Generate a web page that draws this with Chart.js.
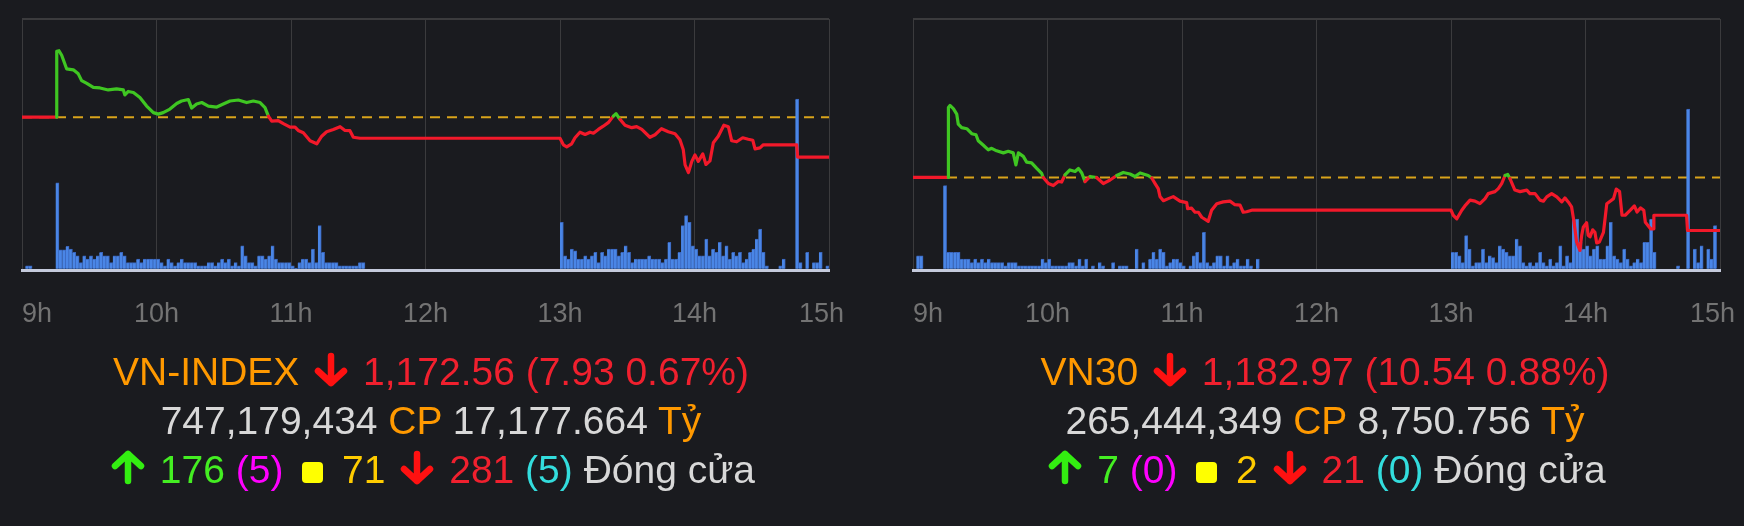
<!DOCTYPE html>
<html>
<head>
<meta charset="utf-8">
<script src="https://cdn.jsdelivr.net/npm/chart.js@4.4.1/dist/chart.umd.min.js"></script>
<style>
  html, body { margin: 0; padding: 0; background: #1a1b1f; }
  body { width: 1744px; height: 526px; position: relative; overflow: hidden;
         font-family: "Liberation Sans", Arial, sans-serif; }
  canvas { position: absolute; top: 0; }
  .info { position: absolute; top: 347px; width: 800px; text-align: center;
          font-size: 39px; line-height: 49px; white-space: nowrap; }
  .o { color: #ff9900; }
  .r { color: #f0202e; }
  .w { color: #d8d8d8; }
  .g { color: #44ee22; }
  .m { color: #ff00ff; }
  .y { color: #ffcc00; }
  .c { color: #33dddd; }
  .sq { display: inline-block; width: 21px; height: 21px; background: #ffff00;
        border-radius: 4px; margin: 0 8px; vertical-align: 0px; }
  svg.arr { vertical-align: -2px; }
</style>
</head>
<body>
<canvas id="vniChart" width="947" height="359" style="left:-48px"></canvas>
<canvas id="vn30Chart" width="947" height="359" style="left:843px"></canvas>

<div class="info" style="left:31px">
  <div><span class="o">VN-INDEX</span> <svg class="arr" width="42" height="35" viewBox="0 0 42 35"><path d="M21 4 V31 M8 19 L21 31 L34 19" fill="none" stroke="#ff1111" stroke-width="6.5" stroke-linecap="round" stroke-linejoin="round"/></svg> <span class="r">1,172.56 (7.93 0.67%)</span></div>
  <div><span class="w">747,179,434</span> <span class="o">CP</span> <span class="w">17,177.664</span> <span class="o">Tỷ</span></div>
  <div><svg class="arr" width="42" height="35" viewBox="0 0 42 35"><path d="M21 31 V4 M8 16 L21 4 L34 16" fill="none" stroke="#33ee11" stroke-width="6.5" stroke-linecap="round" stroke-linejoin="round"/></svg> <span class="g">176</span> <span class="m">(5)</span> <i class="sq"></i> <span class="y">71</span> <svg class="arr" width="42" height="35" viewBox="0 0 42 35"><path d="M21 4 V31 M8 19 L21 31 L34 19" fill="none" stroke="#ff1111" stroke-width="6.5" stroke-linecap="round" stroke-linejoin="round"/></svg> <span class="r">281</span> <span class="c">(5)</span> <span class="w">Đóng cửa</span></div>
</div>

<div class="info" style="left:925px">
  <div><span class="o">VN30</span> <svg class="arr" width="42" height="35" viewBox="0 0 42 35"><path d="M21 4 V31 M8 19 L21 31 L34 19" fill="none" stroke="#ff1111" stroke-width="6.5" stroke-linecap="round" stroke-linejoin="round"/></svg> <span class="r">1,182.97 (10.54 0.88%)</span></div>
  <div><span class="w">265,444,349</span> <span class="o">CP</span> <span class="w">8,750.756</span> <span class="o">Tỷ</span></div>
  <div><svg class="arr" width="42" height="35" viewBox="0 0 42 35"><path d="M21 31 V4 M8 16 L21 4 L34 16" fill="none" stroke="#33ee11" stroke-width="6.5" stroke-linecap="round" stroke-linejoin="round"/></svg> <span class="g">7</span> <span class="m">(0)</span> <i class="sq"></i> <span class="y">2</span> <svg class="arr" width="42" height="35" viewBox="0 0 42 35"><path d="M21 4 V31 M8 19 L21 31 L34 19" fill="none" stroke="#ff1111" stroke-width="6.5" stroke-linecap="round" stroke-linejoin="round"/></svg> <span class="r">21</span> <span class="c">(0)</span> <span class="w">Đóng cửa</span></div>
</div>

<script>
'use strict';
// time axis: minutes after 9:00, one tick per hour
let hourLabels = ['9h', '10h', '11h', '12h', '13h', '14h', '15h'];

// VN-INDEX intraday (minutes after 9:00, index points)
let vniRef = 1180.49;
let vniTimes = [0, 15.5, 15.5, 16.5, 17.7, 19.9, 22.9, 25.1, 26.6, 28.9,
  31.8, 34.8, 38.5, 42.2, 45.2, 45.9, 47.4, 49.7, 52.6, 55.6,
  58.6, 60.8, 63, 66, 69, 71.2, 74.2, 75.7, 77.9, 80.2,
  83.1, 86.9, 89.8, 92.8, 96.5, 100.2, 103.2, 106.2, 108.4, 109.9,
  111.4, 114.3, 116.6, 119.6, 121.8, 123.2, 125.5, 128.5, 131.5, 133.7,
  135.9, 138.9, 141.9, 144.1, 146.3, 147.8, 150.8, 240, 241.5, 243,
  245.2, 246.7, 248.9, 251.2, 253.4, 254.9, 257.1, 259.3, 261.5, 263.8,
  265, 266.8, 269, 272, 274.2, 276.5, 280.1, 282.4, 285.3, 288.3,
  291.3, 293.5, 295, 295.8, 297.3, 298.8, 300.2, 301.7, 303.7, 305.1,
  306.9, 308.4, 310.6, 313.1, 315.1, 316.6, 318.8, 321.5, 324, 326,
  327, 329.2, 330.7, 345.6, 346, 360];
let vniPrices = [1180.49, 1180.49, 1193.6, 1193.7, 1192.8, 1190.1, 1189.9, 1189.1, 1187.75, 1187.2,
  1186.4, 1186.3, 1185.9, 1186.1, 1185.9, 1184.9, 1185.6, 1185.4, 1184.4, 1182.7,
  1181.4, 1181.1, 1181.4, 1182.1, 1183.2, 1183.7, 1184.0, 1182.3, 1183.1, 1183.4,
  1182.7, 1182.5, 1183.1, 1183.7, 1183.9, 1183.4, 1183.7, 1183.4, 1182.4, 1180.7,
  1179.7, 1179.8, 1179.2, 1178.5, 1178.5, 1177.85, 1177.4, 1175.8, 1175.2, 1176.7,
  1177.6, 1178.05, 1178.6, 1177.85, 1177.8, 1176.5, 1176.3, 1176.3, 1175.0, 1174.6,
  1175.2, 1176.4, 1177.5, 1177.05, 1177.5, 1177.3, 1178.05, 1178.7, 1179.4, 1180.7,
  1181.2, 1180.05, 1178.9, 1178.4, 1178.6, 1178.05, 1176.5, 1177.0, 1178.2, 1177.6,
  1177.2, 1176.0, 1174.0, 1171.0, 1169.5, 1171.7, 1173.0, 1171.7, 1173.2, 1171.1,
  1171.8, 1175.4, 1176.7, 1178.9, 1178.6, 1175.8, 1175.6, 1176.4, 1176.1, 1175.9,
  1174.2, 1174.4, 1175.0, 1175.0, 1172.56, 1172.56];
// volume per 1.5 minute slot, 0 = 9:00 (relative height, 100 = top of plot)
let vniVolume = [
  0, 1.2, 1.2, 0, 0, 0, 0, 0, 0, 0, 34.4, 7.6, 7.6, 9.0, 7.9, 6.6, 5.2, 2.5, 5.2, 3.9,
  5.2, 3.9, 5.2, 6.6, 5.2, 5.2, 2.5, 5.2, 5.2, 6.6, 5.2, 2.5, 2.5, 2.5, 3.9, 2.5, 3.9, 3.9, 3.9, 3.9,
  3.9, 2.5, 1.2, 3.9, 2.5, 1.2, 2.5, 3.9, 2.5, 2.5, 2.5, 2.5, 1.2, 1.2, 1.2, 2.5, 2.5, 1.2, 2.5, 3.9,
  2.5, 3.9, 1.2, 2.5, 1.2, 9.2, 5.2, 2.5, 2.5, 1.2, 5.2, 5.2, 3.9, 5.2, 9.2, 3.9, 2.5, 2.5, 2.5, 2.5,
  1.2, 0.3, 2.5, 3.9, 3.9, 2.5, 7.9, 2.5, 17.3, 6.6, 2.5, 2.5, 2.5, 2.5, 1.2, 1.2, 1.2, 1.2, 1.2, 1.2,
  2.5, 2.5, 0, 0, 0, 0, 0, 0, 0, 0, 0, 0, 0, 0, 0, 0, 0, 0, 0, 0,
  0, 0, 0, 0, 0, 0, 0, 0, 0, 0, 0, 0, 0, 0, 0, 0, 0, 0, 0, 0,
  0, 0, 0, 0, 0, 0, 0, 0, 0, 0, 0, 0, 0, 0, 0, 0, 0, 0, 0, 0,
  18.6, 5.2, 3.9, 7.9, 7.2, 3.9, 3.9, 5.2, 3.9, 5.2, 6.6, 2.5, 6.6, 5.2, 7.9, 7.9, 7.9, 5.2, 6.6, 9.2,
  6.6, 2.5, 3.9, 3.9, 3.9, 3.9, 5.2, 3.9, 3.9, 3.9, 2.5, 3.9, 10.6, 3.9, 3.9, 6.6, 17.3, 21.3, 18.6, 9.2,
  7.9, 5.2, 5.2, 11.9, 5.2, 7.9, 6.6, 10.6, 5.2, 9.2, 3.9, 6.6, 5.2, 6.6, 2.5, 3.9, 6.6, 7.9, 11.9, 15.9,
  6.6, 1.2, 0, 0, 0, 1.2, 3.9, 0, 0, 0, 67.9, 2.5, 0, 6.6, 0, 2.5, 2.5, 6.6, 0, 1.2];

// VN30 intraday
let vn30Ref = 1193.51;
let vn30Times = [0, 15.8, 15.8, 16.5, 18, 19.5, 20.2, 21.7, 24, 26.2,
  28.1, 29.1, 31.4, 33.6, 35.1, 37.3, 40.3, 42.5, 44.7, 45.9,
  47, 49.2, 50.7, 52.9, 55.2, 57.4, 58.1, 60.4, 62.6, 64.8,
  66.3, 67.8, 70, 72.3, 73.8, 75.3, 76.7, 79, 81.9, 84.9,
  87.9, 90.9, 93.8, 96.8, 99, 101.3, 104.9, 106.5, 108, 109.4,
  110.2, 111.7, 113.9, 116.1, 119.1, 122.1, 122.5, 124.3, 125.8, 127.3,
  128.8, 131.7, 133.2, 135.5, 138.4, 141.4, 143.6, 145.9, 147.3, 148.8,
  151.1, 240, 241, 242.6, 244.8, 246.2, 248.5, 250.7, 252.9, 255.2,
  256.6, 259.6, 261.1, 262.6, 264.1, 265.3, 266.3, 268.5, 270.8, 273.8,
  275.2, 277.5, 279.7, 281.2, 282.7, 284.9, 287.2, 289.4, 290.8, 292.3,
  293.8, 294.9, 296, 297.5, 298.3, 299, 300.5, 301.2, 302, 303.2,
  304.2, 305, 306.2, 308, 308.8, 309.5, 311, 312.5, 313.7, 315.2,
  316.3, 317.7, 320, 321.8, 323, 324.5, 326, 326.7, 329, 330.2,
  330.5, 345.1, 345.5, 360];
let vn30Prices = [1193.51, 1193.51, 1207.4, 1207.8, 1207.2, 1206.1, 1204.1, 1203.4, 1203.2, 1202.2,
  1202.0, 1200.8, 1199.9, 1199.0, 1199.3, 1198.8, 1198.4, 1198.7, 1198.4, 1196.0,
  1198.4, 1197.7, 1196.55, 1196.4, 1195.3, 1194.3, 1193.5, 1192.3, 1191.9, 1192.7,
  1192.6, 1194.0, 1195.0, 1194.7, 1195.3, 1194.4, 1192.7, 1193.7, 1193.5, 1192.3,
  1193.0, 1193.9, 1194.5, 1194.2, 1193.7, 1194.4, 1193.9, 1193.4, 1192.3, 1191.3,
  1189.7, 1188.9, 1189.3, 1189.7, 1188.8, 1188.5, 1187.3, 1187.4, 1186.6, 1186.6,
  1185.6, 1184.8, 1187.0, 1188.3, 1188.65, 1188.8, 1188.1, 1188.0, 1186.6, 1186.7,
  1187.0, 1187.0, 1186.0, 1185.3, 1187.0, 1187.85, 1189.0, 1188.8, 1188.3, 1189.3,
  1190.3, 1190.7, 1191.3, 1192.3, 1193.9, 1194.1, 1193.3, 1191.0, 1190.7, 1191.0,
  1190.3, 1190.3, 1189.0, 1188.8, 1189.65, 1190.3, 1189.65, 1188.65, 1189.45, 1188.65,
  1187.65, 1184.6, 1180.75, 1179.0, 1182.0, 1183.6, 1184.5, 1182.0, 1181.7, 1183.1,
  1182.6, 1180.5, 1180.7, 1182.6, 1185.6, 1188.3, 1188.8, 1189.3, 1191.2, 1190.7,
  1186.0, 1186.0, 1187.0, 1187.85, 1186.65, 1187.45, 1187.0, 1184.6, 1183.3, 1183.3,
  1186.0, 1186.0, 1182.97, 1182.97];
let vn30Volume = [
  0, 5.2, 5.2, 0, 0, 0, 0, 0, 0, 33.3, 6.6, 6.6, 6.6, 6.6, 3.9, 3.9, 3.9, 2.5, 3.9, 2.5,
  3.9, 2.5, 3.9, 2.5, 2.5, 2.5, 2.5, 1.2, 2.5, 2.5, 2.5, 1.2, 1.2, 1.2, 1.2, 1.2, 1.2, 1.2, 3.9, 2.5,
  3.9, 1.2, 1.2, 1.2, 1.2, 1.2, 2.5, 2.5, 1.2, 3.9, 1.2, 3.9, 0, 1.2, 0, 2.5, 1.2, 0, 0, 2.5,
  0, 1.2, 1.2, 1.2, 0, 0, 7.9, 0, 2.5, 0, 3.9, 6.6, 3.9, 7.9, 6.6, 1.2, 2.5, 3.9, 3.9, 2.5,
  1.2, 0, 1.2, 5.2, 6.6, 2.5, 14.6, 2.5, 1.2, 2.5, 5.2, 5.2, 1.2, 5.2, 1.2, 2.5, 3.9, 1.2, 1.2, 3.9,
  1.2, 0, 3.9, 0, 0, 0, 0, 0, 0, 0, 0, 0, 0, 0, 0, 0, 0, 0, 0, 0,
  0, 0, 0, 0, 0, 0, 0, 0, 0, 0, 0, 0, 0, 0, 0, 0, 0, 0, 0, 0,
  0, 0, 0, 0, 0, 0, 0, 0, 0, 0, 0, 0, 0, 0, 0, 0, 0, 0, 0, 0,
  6.6, 6.6, 5.2, 2.5, 13.3, 7.9, 1.2, 2.5, 2.5, 7.9, 2.5, 5.2, 4.5, 2.5, 9.2, 7.9, 6.6, 5.2, 5.2, 11.9,
  9.2, 2.5, 1.2, 2.5, 1.2, 2.5, 6.6, 2.5, 1.2, 3.9, 1.2, 2.5, 9.2, 1.2, 5.2, 2.5, 19.9, 19.9, 10.6, 7.9,
  9.2, 5.2, 7.9, 9.2, 3.9, 3.9, 9.2, 18.6, 5.2, 3.9, 2.5, 7.9, 3.9, 1.2, 2.5, 3.9, 2.5, 10.6, 10.6, 19.9,
  6.6, 0, 0, 0, 0, 0, 0, 1.2, 0, 0, 63.9, 0, 7.9, 2.5, 9.2, 0, 7.9, 3.9, 17.3, 0];

const SLOT = 1.5;
const UP = '#3fc622';
const DOWN = '#f2192a';
const GRID = '#3b3b3d';

function drawIntraday(canvasId, times, prices, ref, volume, yMin, yMax) {
  let ctx = document.getElementById(canvasId).getContext('2d');
  let linePoints = times.map((t, i) => ({ x: t, y: prices[i] }));
  let volPoints = volume.map((v, i) => ({ x: i * SLOT + SLOT / 2, y: v || null }));
  let last = hourLabels.length - 1;

  return new Chart(ctx, {
    data: {
      datasets: [
        {
          type: 'line',
          data: linePoints,
          yAxisID: 'y',
          borderColor: DOWN,
          borderWidth: 3.2,
          borderJoinStyle: 'round',
          borderCapStyle: 'round',
          pointRadius: 0,
          tension: 0,
          order: 0,
          segment: {
            borderColor: c => ((c.p0.parsed.y + c.p1.parsed.y) / 2 > ref ? UP : DOWN)
          }
        },
        {
          type: 'bar',
          data: volPoints,
          yAxisID: 'yv',
          backgroundColor: '#4a86e6',
          borderColor: '#3a65bb',
          borderWidth: { top: 1, right: 1, left: 0, bottom: 0 },
          borderSkipped: false,
          barPercentage: 1,
          categoryPercentage: 1,
          order: 1
        },
        {
          type: 'line',
          data: [{ x: 0, y: ref }, { x: 360, y: ref }],
          yAxisID: 'y',
          borderColor: '#d9a41b',
          borderWidth: 2,
          borderDash: [10, 7],
          pointRadius: 0,
          order: 2
        }
      ]
    },
    options: {
      responsive: false,
      animation: false,
      devicePixelRatio: 1,
      layout: { padding: { top: 19, left: 70, right: 70, bottom: 0 } },
      plugins: { legend: { display: false }, tooltip: { enabled: false } },
      scales: {
        x: {
          type: 'linear', position: 'bottom', min: 0, max: 360, offset: false,
          ticks: {
            stepSize: 60,
            autoSkip: false,
            maxRotation: 0,
            padding: 28,
            color: '#737373',
            font: { family: '"Liberation Sans", Arial, sans-serif', size: 27 },
            // nudge the end labels the way the original lays them out
            callback: (value, index) => {
              let label = hourLabels[index];
              if (index === 0) return '    ' + label;
              if (index === last) return label + '  ';
              return label;
            }
          },
          grid: { color: GRID, lineWidth: 1, drawTicks: false, offset: false },
          border: { display: true, color: '#c4cadb', width: 3 }
        },
        y: {
          type: 'linear', position: 'left', min: yMin, max: yMax,
          ticks: { display: false },
          grid: {
            drawTicks: false,
            lineWidth: 2,
            color: c => (c.tick && c.tick.value === yMax ? GRID : 'transparent')
          },
          border: { display: false }
        },
        // small negative floor keeps the bars sitting on the axis line
        yv: {
          type: 'linear', display: false, min: -0.7, max: 100
        }
      }
    }
  });
}

drawIntraday('vniChart', vniTimes, vniPrices, vniRef, vniVolume, 1150, 1200);
drawIntraday('vn30Chart', vn30Times, vn30Prices, vn30Ref, vn30Volume, 1175, 1225);
</script>
</body>
</html>
